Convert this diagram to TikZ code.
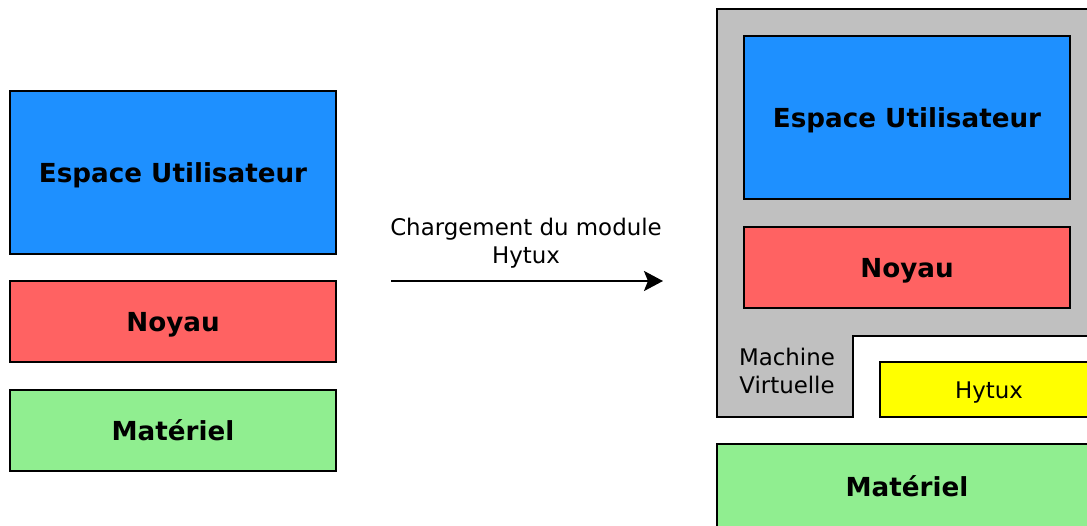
\documentclass[tikz,border=0pt]{standalone}
\usepackage{fontspec}
\setmainfont{DejaVu Sans}
\usetikzlibrary{arrows.meta}
\definecolor{userblue}{HTML}{1E90FF}
\definecolor{kernelred}{HTML}{FF6262}
\definecolor{hwgreen}{HTML}{90EE90}
\definecolor{hytuxyellow}{HTML}{FFFF00}
\definecolor{vmgray}{HTML}{C0C0C0}
\tikzset{
  bold label/.style={font=\fontsize{26.2}{31}\selectfont\bfseries},
  layer/.style={draw=black, line width=2.6pt, inner sep=0pt, outer sep=0pt,
    anchor=north west, bold label, text depth=0pt},
  plain/.style={font=\fontsize{22.9}{28}\selectfont, align=center, inner sep=0pt},
}
\begin{document}
\begin{tikzpicture}[x=1pt, y=-1pt]
\useasboundingbox (0,0) rectangle (1087,525);
\clip (0,0) rectangle (1087,525);

% native stack
\node[layer, fill=userblue, minimum width=326pt, minimum height=163pt] (user) at (10,91) {Espace Utilisateur};
\node[layer, fill=kernelred, minimum width=326pt, minimum height=81pt] (kernel) at (10,281) {Noyau};
\node[layer, fill=hwgreen, minimum width=326pt, minimum height=81pt] (hw) at (10,390) {Matériel};

% loading the module
\coordinate (from) at (391,281);
\coordinate (to) at (663,281);
\draw[line width=2.4pt, -{Stealth[length=19pt, width=20pt, inset=4pt]}] (from) -- (to);
\node[plain] (load) at (526,243) {Chargement du module\\Hytux};

% virtual machine enclosure
\draw[line width=2.6pt, fill=vmgray] (717,9) -- (1100,9) -- (1100,336) -- (853,336) -- (853,417) -- (717,417) -- cycle;
\node[plain] (vm) at (787,371) {Machine\\Virtuelle};
\node[layer, fill=userblue, minimum width=326pt, minimum height=163pt] (vuser) at (744,36) {Espace Utilisateur};
\node[layer, fill=kernelred, minimum width=326pt, minimum height=81pt] (vkernel) at (744,227) {Noyau};

% hypervisor and hardware
\node[layer, fill=hytuxyellow, minimum width=220pt, minimum height=55pt] (hytux) at (880,362) {};
\node[plain] (hytuxlabel) at (989,393) {Hytux};
\node[layer, fill=hwgreen, minimum width=400pt, minimum height=100pt] (vhw) at (717,444) {};
\node[bold label] (vhwlabel) at (907,486) {Matériel};
\end{tikzpicture}
\end{document}
